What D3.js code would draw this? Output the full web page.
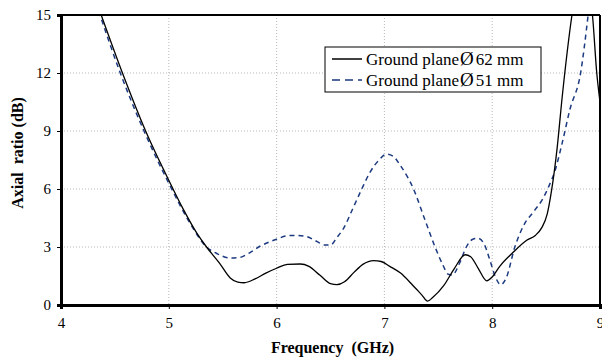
<!DOCTYPE html>
<html>
<head>
<meta charset="utf-8">
<script src="https://cdn.jsdelivr.net/npm/d3@7"></script>
<style>
  body { margin: 0; background: #fff; }
  text { font-family: "Liberation Serif", "Times New Roman", serif; white-space: pre; }
</style>
</head>
<body>
<svg id="chart" width="602" height="358"></svg>
<script>
// frequencies (GHz) and axial ratio (dB)
const freq62 = [4.36, 4.57, 4.785, 5.0, 5.13, 5.26, 5.35, 5.47, 5.57, 5.64, 5.7, 5.8, 5.9, 6.0, 6.1, 6.22, 6.3, 6.4, 6.5, 6.56, 6.63, 6.72, 6.8, 6.9, 6.97, 7.05, 7.15, 7.25, 7.35, 7.4, 7.45, 7.55, 7.65, 7.75, 7.8, 7.87, 7.95, 8.0, 8.07, 8.19, 8.32, 8.4, 8.46, 8.51, 8.55, 8.6, 8.65, 8.74, 8.8, 8.86, 8.93, 8.97, 9.0];
const ar62 = [15.2, 12, 9, 6.45, 5.0, 3.72, 3.0, 2.17, 1.4, 1.18, 1.15, 1.35, 1.65, 1.9, 2.1, 2.12, 2.0, 1.55, 1.1, 1.05, 1.2, 1.7, 2.1, 2.3, 2.25, 2.0, 1.65, 1.1, 0.5, 0.2, 0.4, 1.0, 1.9, 2.6, 2.5, 1.9, 1.25, 1.45, 2.0, 2.7, 3.35, 3.6, 4.0, 4.7, 5.9, 8.0, 10.8, 15, 17, 17, 15, 12, 10.5];

const freq51 = [4.35, 4.55, 4.77, 5.0, 5.2, 5.35, 5.45, 5.57, 5.65, 5.75, 5.85, 6.0, 6.1, 6.18, 6.27, 6.37, 6.45, 6.5, 6.56, 6.62, 6.7, 6.79, 6.87, 6.95, 7.02, 7.08, 7.15, 7.27, 7.37, 7.47, 7.54, 7.59, 7.63, 7.7, 7.76, 7.82, 7.87, 7.93, 7.98, 8.03, 8.08, 8.13, 8.21, 8.3, 8.38, 8.47, 8.53, 8.58, 8.65, 8.72, 8.82, 8.89, 8.93];
const ar51 = [15.2, 12, 9, 6.3, 4.2, 3.0, 2.65, 2.43, 2.45, 2.7, 3.05, 3.4, 3.58, 3.6, 3.55, 3.3, 3.1, 3.1, 3.5, 3.95, 4.9, 6.0, 6.9, 7.5, 7.8, 7.7, 7.2, 6.0, 4.5, 3.0, 2.1, 1.6, 1.55, 2.2, 3.0, 3.4, 3.45, 3.1, 2.3, 1.45, 1.05, 1.4, 3.0, 4.2, 4.8, 5.5, 6.2, 6.9, 8.4, 10.1, 12, 15, 17];

const xTicks = [4, 5, 6, 7, 8, 9];
const yTicks = [0, 3, 6, 9, 12, 15];
const seriesSizes = ["62 mm", "51 mm"];

const svg = d3.select("#chart");
const pLeft = 61, pRight = 600, pTop = 15, pBottom = 305;

const x = d3.scaleLinear().domain([4, 9]).range([pLeft, pRight]);
const y = d3.scaleLinear().domain([0, 15]).range([pBottom, pTop]);

// dotted grid
svg.append("g")
  .selectAll("line")
  .data(xTicks.slice(1, -1))
  .enter().append("line")
  .attr("x1", d => x(d)).attr("x2", d => x(d))
  .attr("y1", pTop).attr("y2", pBottom)
  .attr("stroke", "#b8b8b8").attr("stroke-width", 1).attr("stroke-dasharray", "1,2");

svg.append("g")
  .selectAll("line")
  .data(yTicks.slice(1, -1))
  .enter().append("line")
  .attr("x1", pLeft).attr("x2", pRight)
  .attr("y1", d => y(d)).attr("y2", d => y(d))
  .attr("stroke", "#b8b8b8").attr("stroke-width", 1).attr("stroke-dasharray", "1,2");

svg.append("clipPath").attr("id", "clip")
  .append("rect").attr("x", pLeft).attr("y", pTop).attr("width", pRight - pLeft).attr("height", pBottom - pTop);

const line = d3.line()
  .x(d => x(d[0]))
  .y(d => y(d[1]))
  .curve(d3.curveMonotoneX);

const plot = svg.append("g").attr("clip-path", "url(#clip)");

plot.append("path")
  .datum(d3.zip(freq51, ar51))
  .attr("d", line)
  .attr("fill", "none")
  .attr("stroke", "#1c3a80")
  .attr("stroke-width", 1.5)
  .attr("stroke-dasharray", "5,4");

plot.append("path")
  .datum(d3.zip(freq62, ar62))
  .attr("d", line)
  .attr("fill", "none")
  .attr("stroke", "#000")
  .attr("stroke-width", 1.3);

// frame
svg.append("line").attr("x1", pLeft).attr("x2", pRight).attr("y1", pTop).attr("y2", pTop)
  .attr("stroke", "#000").attr("stroke-width", 2);
svg.append("line").attr("x1", pRight).attr("x2", pRight).attr("y1", pTop).attr("y2", pBottom)
  .attr("stroke", "#000").attr("stroke-width", 2);

// axes
const xAxis = svg.append("g")
  .attr("transform", `translate(0,${pBottom})`)
  .call(d3.axisBottom(x).tickValues(xTicks).tickSize(4).tickPadding(8).tickFormat(d3.format("d")));
const yAxis = svg.append("g")
  .attr("transform", `translate(${pLeft},0)`)
  .call(d3.axisLeft(y).tickValues(yTicks).tickSize(4).tickPadding(6).tickFormat(d3.format("d")));

[xAxis, yAxis].forEach(g => {
  g.attr("font-family", null);
  g.select(".domain").attr("stroke", "#000").attr("stroke-width", 3);
  g.selectAll(".tick line").attr("stroke", "#000");
  g.selectAll(".tick text")
    .attr("fill", "#000")
    .style("font-family", "'Liberation Serif', serif")
    .style("font-size", "15px");
});

// axis titles
svg.append("text")
  .attr("x", (pLeft + pRight) / 2 + 2)
  .attr("y", 353)
  .attr("text-anchor", "middle")
  .style("font-size", "16px")
  .style("font-weight", "bold")
  .text("Frequency  (GHz)");

svg.append("text")
  .attr("transform", "translate(23,153) rotate(-90)")
  .attr("text-anchor", "middle")
  .style("font-size", "16px")
  .style("font-weight", "bold")
  .text("Axial  ratio (dB)");

// legend
const legend = svg.append("g");
legend.append("rect")
  .attr("x", 325).attr("y", 47).attr("width", 216).attr("height", 45)
  .attr("fill", "#fff").attr("stroke", "#000").attr("stroke-width", 1);

const legendStyles = [
  { stroke: "#000", dash: null, w: 1.5 },
  { stroke: "#1c3a80", dash: "8,5", w: 1.5 }
];

seriesSizes.forEach((size, i) => {
  const ly = 59 + i * 21;
  legend.append("line")
    .attr("x1", 332).attr("x2", 362).attr("y1", ly).attr("y2", ly)
    .attr("stroke", legendStyles[i].stroke)
    .attr("stroke-width", legendStyles[i].w)
    .attr("stroke-dasharray", legendStyles[i].dash);
  const t = legend.append("text")
    .attr("x", 366).attr("y", ly + 5.5)
    .style("font-size", "17px");
  t.append("tspan").text("Ground plane");
  t.append("tspan").attr("dx", 1).style("font-size", "19px").text("\u00D8");
  t.append("tspan").attr("dx", 2).text(size);
});
</script>
</body>
</html>
